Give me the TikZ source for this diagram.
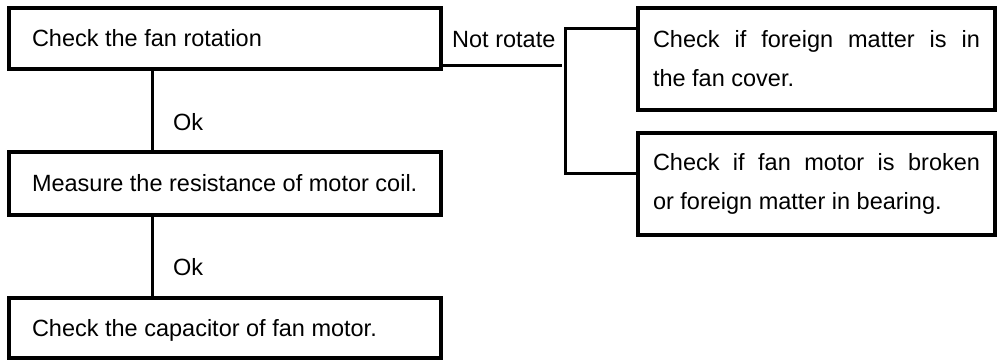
\documentclass[tikz,border=0pt]{standalone}
\usepackage{fontspec}
\setmainfont{Liberation Sans}
\usepackage{tikz}

\begin{document}
\begin{tikzpicture}[x=1pt, y=-1pt]
	\useasboundingbox (0,0) rectangle (997,362);
	
	\begin{scope}[
		flowbox/.style={draw, line width=4.5pt, minimum width=432pt, inner xsep=0pt, inner ysep=0pt, text height=16.8pt, text depth=0pt, font=\fontsize{23.5}{39}\selectfont},
		faultbox/.style={draw, line width=4.5pt, text width=327pt, inner xsep=15pt, inner ysep=0pt, align=justify, minimum height=102pt, font=\fontsize{23.5}{39}\selectfont},
		tag/.style={inner sep=0pt, anchor=base west, font=\fontsize{23.5}{28}\selectfont}]
		\node[flowbox, minimum height=61pt] (S1) at (225, 38.5) {\makebox[386pt][l]{Check the fan rotation}};
		\node[flowbox, minimum height=63pt] (S2) at (225, 183.5) {\makebox[386pt][l]{Measure the resistance of motor coil.}};
		\node[flowbox, minimum height=60pt] (S3) at (225, 328) {\makebox[386pt][l]{Check the capacitor of fan motor.}};
		
		\node[faultbox] (F1) at (816.5, 59) {Check if foreign matter is in\linebreak the fan cover.};
		\node[faultbox] (F2) at (816.5, 184) {Check if fan motor is broken\linebreak or foreign matter in bearing.};
		
		\node[tag] (notrot) at (452, 47) {Not rotate};
		\node[tag] (ok1) at (173, 130) {Ok};
		\node[tag] (ok2) at (173, 275) {Ok};
	\end{scope}
	
	\coordinate (trunk) at (152, 0);
	\coordinate (notend) at (562, 65);
	\coordinate (brtop) at (565, 28);
	\coordinate (brbot) at (565, 173);
	
	\draw[line width=3pt] (trunk |- S1.south) -- (trunk |- S2.north);
	\draw[line width=3pt] (trunk |- S2.south) -- (trunk |- S3.north);
	\draw[line width=3pt] (S1.east |- notend) -- (notend);
	\draw[line width=3pt] (F1.west |- brtop) -- (brtop) -- (brbot) -- (F2.west |- brbot);
\end{tikzpicture}
\end{document}
